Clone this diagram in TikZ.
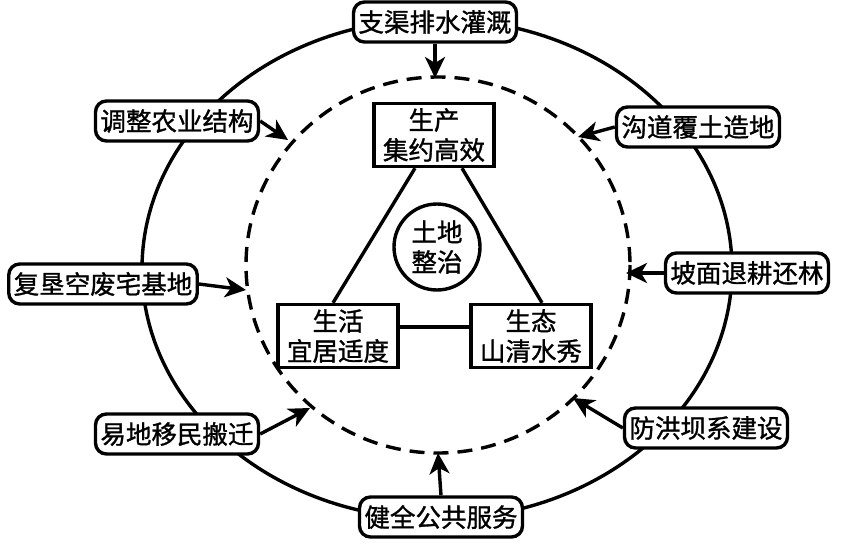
\documentclass[tikz,border=0pt]{standalone}
\usepackage{fontspec}
\newfontfamily\cjk[FakeBold=1.2]{Noto Sans CJK SC}
\usetikzlibrary{arrows.meta,shapes.geometric}
\begin{document}
\begin{tikzpicture}[x=1pt,y=-1pt,
  lw/.style={line width=3.4pt},
  outerbox/.style={lw,draw,fill=white,rounded corners=11pt,inner xsep=5pt,inner ysep=0pt,minimum height=40pt,font=\cjk\fontsize{25.5}{30}\selectfont},
  innerbox/.style={lw,draw,fill=white,align=center,inner xsep=8pt,inner ysep=0pt,minimum height=63pt,minimum width=120pt,font=\cjk\fontsize{25.5}{30}\selectfont},
  centre/.style={lw,draw,circle,align=center,inner sep=0pt,minimum size=86pt,font=\cjk\fontsize{25.5}{30}\selectfont},
  arr/.style={lw,-{Stealth[length=21pt,width=20pt,inset=6pt]}},
  link/.style={lw}
]
\useasboundingbox (0,0) rectangle (868,551);
% outer ellipse and dashed circle
\draw[lw] (437,269) ellipse [x radius=295, y radius=250];
\draw[lw,dash pattern=on 15pt off 9pt] (438,265) ellipse [x radius=192, y radius=188];

% outer boxes
\node[outerbox] (t)  at (435,22)  {支渠排水灌溉};
\node[outerbox] (tl) at (177,121) {调整农业结构};
\node[outerbox] (tr) at (698,127) {沟道覆土造地};
\node[outerbox] (l)  at (103,284) {复垦空废宅基地};
\node[outerbox] (r)  at (747,273) {坡面退耕还林};
\node[outerbox] (bl) at (177,434) {易地移民搬迁};
\node[outerbox] (br) at (706,428) {防洪坝系建设};
\node[outerbox] (b)  at (441,517) {健全公共服务};

% arrow targets on the dashed circle
\coordinate (pt)  at (435,78);
\coordinate (ptl) at (288,140);
\coordinate (ptr) at (578,137);
\coordinate (pl)  at (246,290);
\coordinate (pr)  at (626,273);
\coordinate (pbl) at (310,408);
\coordinate (pbr) at (573,398);
\coordinate (pb)  at (438,453);

\draw[arr] (t.south) -- (pt);
\draw[arr] (tl.east) -- (ptl);
\draw[arr] (tr.west) -- (ptr);
\draw[arr] (l.east) -- (pl);
\draw[arr] (r.west) -- (pr);
\draw[arr] (bl.east) -- (pbl);
\draw[arr] (br.west) -- (pbr);
\draw[arr] (b.north) -- (pb);

% inner triangle
\node[innerbox] (prod) at (434,135) {生产\\集约高效};
\node[innerbox] (life) at (338,336) {生活\\宜居适度};
\node[innerbox] (eco)  at (531,336) {生态\\山清水秀};
\node[centre] (core) at (437,247) {土地\\整治};

\draw[link] ([xshift=-19pt]prod.south) -- ([xshift=-5pt]life.north);
\draw[link] ([xshift=28pt]prod.south) -- ([xshift=11pt]eco.north);
\draw[link] ([yshift=9pt]life.east) -- ([yshift=9pt]eco.west);
\end{tikzpicture}
\end{document}
